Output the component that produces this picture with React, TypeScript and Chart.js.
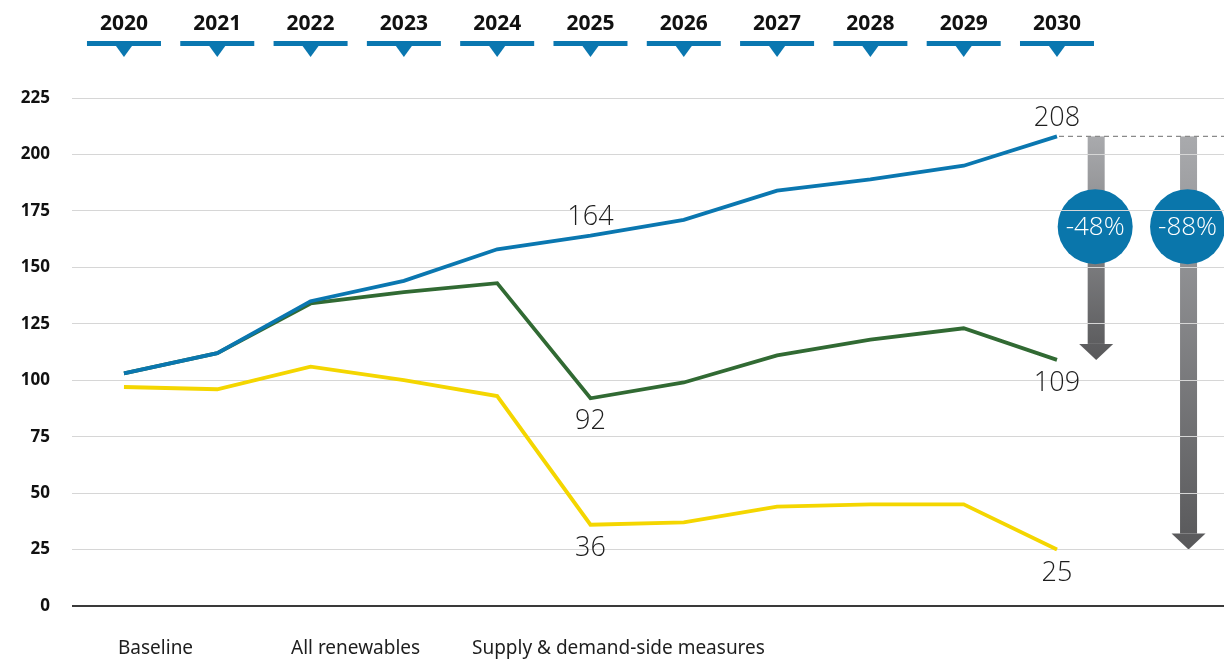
import React, { useEffect, useRef } from "react";
import { Chart, registerables } from "chart.js";
Chart.register(...registerables);

const years = ["2020", "2021", "2022", "2023", "2024", "2025", "2026", "2027", "2028", "2029", "2030"];
const baseline = [103, 112, 135, 144, 158, 164, 171, 184, 189, 195, 208];
const allRenewables = [103, 112, 134, 139, 143, 92, 99, 111, 118, 123, 109];
const supplyDemand = [97, 96, 106, 100, 93, 36, 37, 44, 45, 45, 25];
const seriesNames = ["Baseline", "All renewables", "Supply & demand-side measures"];
const yTicks = [0, 25, 50, 75, 100, 125, 150, 175, 200, 225];
const labelledIndices = [5, 10];

const BLUE = "#0a77b0";
const GREEN = "#316a33";
const YELLOW = "#f4d600";

const toPts = (arr: number[]) => arr.map((v, i) => ({ x: i, y: v }));

const overlay = {
  id: "overlay",
  beforeDraw(chart: any) {
    const ctx = chart.ctx;
    const xs = chart.scales.x;
    const ys = chart.scales.y;
    const last = years.length - 1;
    const topVal = baseline[last];
    const yTop = ys.getPixelForValue(topVal);
    const targets = [allRenewables[last], supplyDemand[last]];
    const arrowXs = [xs.getPixelForValue(last + 0.42), xs.getPixelForValue(last + 1.41)];
    targets.forEach((t, k) => {
      const cx = arrowXs[k];
      const yTip = ys.getPixelForValue(t);
      const headH = 16;
      const g = ctx.createLinearGradient(0, yTop, 0, yTip);
      g.addColorStop(0, "#a9aaad");
      g.addColorStop(1, "#58585a");
      ctx.save();
      ctx.fillStyle = g;
      ctx.fillRect(cx - 8.5, yTop, 17, yTip - headH - yTop);
      ctx.beginPath();
      ctx.moveTo(cx - 17, yTip - headH);
      ctx.lineTo(cx + 17, yTip - headH);
      ctx.lineTo(cx, yTip);
      ctx.closePath();
      ctx.fill();
      const cy = ys.getPixelForValue(168);
      ctx.fillStyle = "#0a76ab";
      ctx.beginPath();
      ctx.arc(cx - 1, cy, 37.5, 0, Math.PI * 2);
      ctx.fill();
      ctx.restore();
    });
  },
  afterDraw(chart: any) {
    const ctx = chart.ctx;
    const xs = chart.scales.x;
    const ys = chart.scales.y;
    const last = years.length - 1;
    const topVal = baseline[last];
    const yTop = ys.getPixelForValue(topVal);

    // dashed reference line
    ctx.save();
    ctx.strokeStyle = "#8a8a8a";
    ctx.lineWidth = 1.2;
    ctx.setLineDash([5, 4]);
    ctx.beginPath();
    ctx.moveTo(xs.getPixelForValue(last) + 2, yTop);
    ctx.lineTo(chart.chartArea.right, yTop);
    ctx.stroke();
    ctx.restore();

    // percentages in circles
    const targets = [allRenewables[last], supplyDemand[last]];
    const arrowXs = [xs.getPixelForValue(last + 0.42), xs.getPixelForValue(last + 1.41)];
    ctx.save();
    ctx.fillStyle = "#ffffff";
    ctx.font = "300 26px 'Open Sans', 'Noto Sans', sans-serif";
    ctx.textAlign = "center";
    ctx.textBaseline = "middle";
    targets.forEach((t, k) => {
      const pct = Math.round((1 - t / topVal) * 100);
      ctx.fillText("-" + pct + "%", arrowXs[k] - 1, ys.getPixelForValue(168) + 1);
    });
    ctx.restore();

    // data labels
    ctx.save();
    ctx.fillStyle = "#1e1e1e";
    ctx.font = "300 27px 'Open Sans', 'Noto Sans', sans-serif";
    ctx.textAlign = "center";
    labelledIndices.forEach((i) => {
      const px = xs.getPixelForValue(i);
      ctx.textBaseline = "bottom";
      ctx.fillText(String(baseline[i]), px, ys.getPixelForValue(baseline[i]) - 5);
      ctx.textBaseline = "top";
      ctx.fillText(String(allRenewables[i]), px, ys.getPixelForValue(allRenewables[i]) + 10);
      ctx.fillText(String(supplyDemand[i]), px, ys.getPixelForValue(supplyDemand[i]) + 10);
    });
    ctx.restore();

    // year header with markers
    ctx.save();
    years.forEach((yr, i) => {
      const px = xs.getPixelForValue(i);
      ctx.fillStyle = "#111";
      ctx.font = "bold 21px 'Noto Sans', sans-serif";
      ctx.textAlign = "center";
      ctx.textBaseline = "middle";
      ctx.fillText(yr, px, 24);
      ctx.fillStyle = "#0a77b0";
      ctx.fillRect(px - 37, 41, 74, 5);
      ctx.beginPath();
      ctx.moveTo(px - 8, 46);
      ctx.lineTo(px + 8, 46);
      ctx.lineTo(px, 57);
      ctx.closePath();
      ctx.fill();
    });
    ctx.restore();

    // legend (text only)
    const legendX = [118, 291, 472];
    ctx.save();
    ctx.fillStyle = "#1e1e1e";
    ctx.font = "19px 'Noto Sans', sans-serif";
    ctx.textAlign = "left";
    ctx.textBaseline = "middle";
    seriesNames.forEach((n, k) => ctx.fillText(n, legendX[k], 649));
    ctx.restore();
  },
};

export default function App() {
  const ref = useRef<HTMLCanvasElement>(null);
  useEffect(() => {
    if (!ref.current) return;
    const chart = new Chart(ref.current, {
      type: "line",
      data: {
        datasets: [
          { label: seriesNames[0], data: toPts(baseline), borderColor: BLUE, borderWidth: 3.8, pointRadius: 0, tension: 0 },
          { label: seriesNames[1], data: toPts(allRenewables), borderColor: GREEN, borderWidth: 3.8, pointRadius: 0, tension: 0 },
          { label: seriesNames[2], data: toPts(supplyDemand), borderColor: YELLOW, borderWidth: 3.8, pointRadius: 0, tension: 0 },
        ],
      },
      options: {
        animation: false,
        responsive: false,
        layout: { padding: { top: 98, bottom: 57, left: 0, right: 0 } },
        plugins: { legend: { display: false }, tooltip: { enabled: false } },
        scales: {
          x: { type: "linear", min: -0.557, max: 11.79, display: false },
          y: {
            min: 0,
            max: 225,
            afterFit: (s: any) => { s.width = 72; },
            afterBuildTicks: (s: any) => { s.ticks = yTicks.map((v) => ({ value: v })); },
            border: { display: false },
            grid: {
              drawTicks: false,
              color: (c: any) => (c.tick && c.tick.value === 0 ? "#3a3a3a" : "#d6d6d6"),
              lineWidth: (c: any) => (c.tick && c.tick.value === 0 ? 2 : 1),
            },
            ticks: {
              padding: 22,
              color: "#111",
              font: { family: "'Noto Sans', sans-serif", size: 17, weight: "bold" },
            },
          },
        },
      },
      plugins: [overlay],
    });
    return () => chart.destroy();
  }, []);
  return (
    <div style={{ position: "absolute", left: 0, top: 0, width: 1224, height: 663, background: "#fff" }}>
      <canvas ref={ref} width={1224} height={663} style={{ display: "block" }} />
    </div>
  );
}
